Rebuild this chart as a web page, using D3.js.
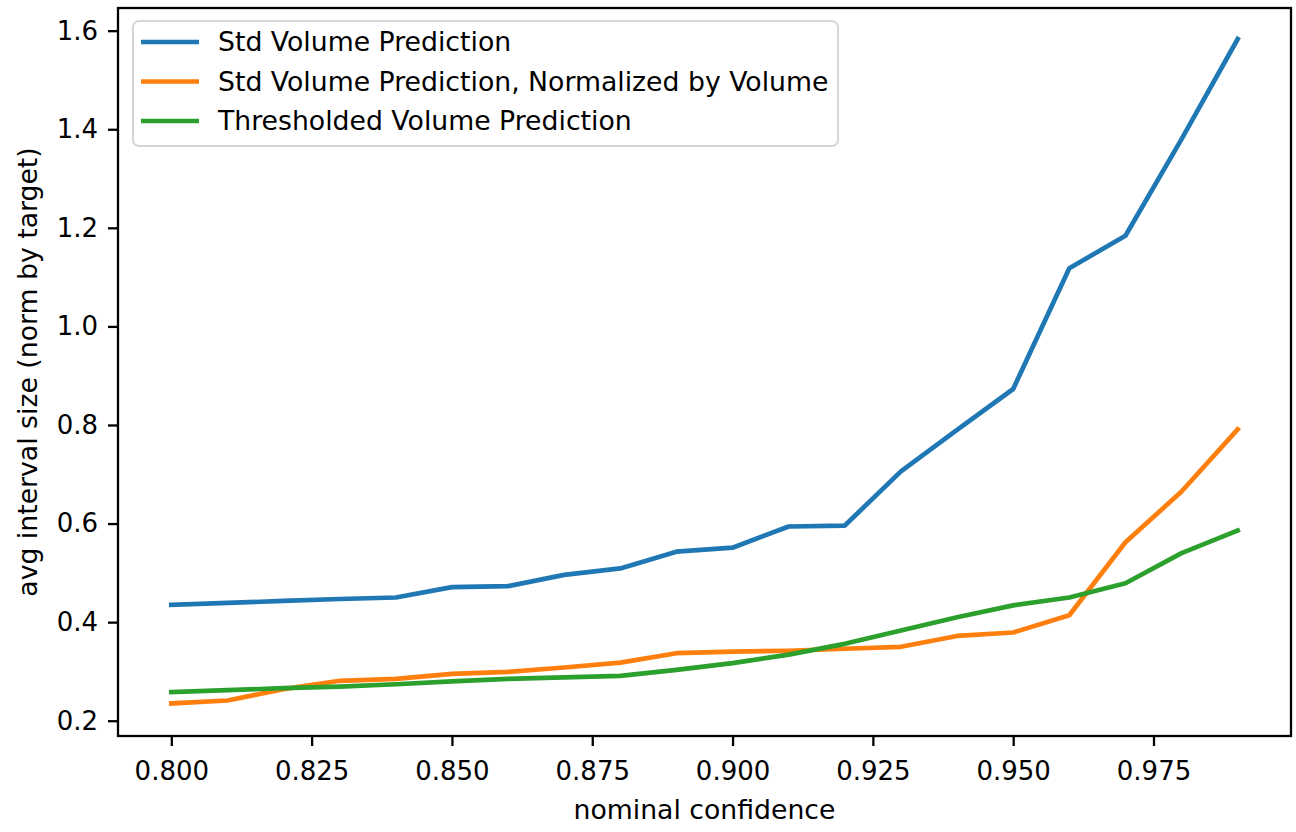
<!DOCTYPE html>
<html>
<head>
<meta charset="utf-8">
<script src="https://cdn.jsdelivr.net/npm/d3@7"></script>
<style>
  body { margin: 0; background: #fff; }
  text { font-family: "DejaVu Sans", sans-serif; fill: #000; }
</style>
</head>
<body>
<div id="chart"></div>
<script>
var width = 1296;
var height = 832;

// data
var confidence = [0.80, 0.81, 0.82, 0.83, 0.84, 0.85, 0.86, 0.87, 0.88, 0.89,
                  0.90, 0.91, 0.92, 0.93, 0.94, 0.95, 0.96, 0.97, 0.98, 0.99];
var stdVolume = [0.435, 0.439, 0.443, 0.447, 0.450, 0.471, 0.473, 0.496, 0.509, 0.543,
                 0.551, 0.594, 0.596, 0.706, 0.790, 0.873, 1.118, 1.184, 1.380, 1.583];
var stdNormalized = [0.235, 0.241, 0.264, 0.281, 0.285, 0.295, 0.299, 0.308, 0.318, 0.337,
                     0.340, 0.342, 0.346, 0.350, 0.372, 0.379, 0.414, 0.562, 0.665, 0.791];
var thresholded = [0.258, 0.262, 0.266, 0.269, 0.274, 0.280, 0.285, 0.288, 0.291, 0.303,
                   0.317, 0.334, 0.356, 0.383, 0.410, 0.434, 0.450, 0.479, 0.540, 0.586];
var seriesNames = ["Std Volume Prediction",
                   "Std Volume Prediction, Normalized by Volume",
                   "Thresholded Volume Prediction"];
var seriesColors = ["#1f77b4", "#ff7f0e", "#2ca02c"];
var xTicks = [0.800, 0.825, 0.850, 0.875, 0.900, 0.925, 0.950, 0.975];
var yTicks = [0.2, 0.4, 0.6, 0.8, 1.0, 1.2, 1.4, 1.6];

// plot box (don't call it "top", window.top is taken)
var pLeft = 118, pRight = 1291, pTop = 8, pBottom = 736;
var tickFont = 26;
var labelFont = 26.7;

var svg = d3.select("#chart")
    .append("svg")
    .attr("width", width)
    .attr("height", height);

var x = d3.scaleLinear().domain([0.7905, 0.9995]).range([pLeft, pRight]);
var y = d3.scaleLinear().domain([0.169, 1.646]).range([pBottom, pTop]);

// axes
var xAxis = svg.append("g")
    .attr("transform", "translate(0," + pBottom + ")")
    .call(d3.axisBottom(x).tickValues(xTicks).tickFormat(d3.format(".3f"))
        .tickSize(10).tickPadding(8).tickSizeOuter(0));
var yAxis = svg.append("g")
    .attr("transform", "translate(" + pLeft + ",0)")
    .call(d3.axisLeft(y).tickValues(yTicks).tickFormat(d3.format(".1f"))
        .tickSize(10).tickPadding(10).tickSizeOuter(0));
svg.selectAll(".domain").remove();
svg.selectAll(".tick line").attr("stroke", "#000").attr("stroke-width", 2.3);
svg.selectAll(".tick text")
    .style("font-family", "DejaVu Sans")
    .style("font-size", tickFont + "px")
    .attr("fill", "#000");
xAxis.selectAll(".tick text").attr("dy", null).attr("y", 44);

// lines
var line = d3.line()
    .x(function(d, i) { return x(confidence[i]); })
    .y(function(d) { return y(d); });
var allSeries = [stdVolume, stdNormalized, thresholded];
for (var s = 0; s < allSeries.length; s++) {
    svg.append("path")
        .datum(allSeries[s])
        .attr("d", line)
        .attr("fill", "none")
        .attr("stroke", seriesColors[s])
        .attr("stroke-width", 4.7)
        .attr("stroke-linejoin", "round")
        .attr("stroke-linecap", "square");
}

// frame
svg.append("rect")
    .attr("x", pLeft)
    .attr("y", pTop)
    .attr("width", pRight - pLeft)
    .attr("height", pBottom - pTop)
    .attr("fill", "none")
    .attr("stroke", "#000")
    .attr("stroke-width", 2.3);

// axis labels
svg.append("text")
    .text("nominal confidence")
    .attr("x", (pLeft + pRight) / 2)
    .attr("y", 819)
    .attr("text-anchor", "middle")
    .style("font-size", labelFont + "px");
svg.append("text")
    .text("avg interval size (norm by target)")
    .attr("transform", "translate(37," + (pTop + pBottom) / 2 + ") rotate(-90)")
    .attr("text-anchor", "middle")
    .style("font-size", labelFont + "px");

// legend
var legend = svg.append("g");
legend.append("rect")
    .attr("x", 133)
    .attr("y", 21)
    .attr("width", 705)
    .attr("height", 125)
    .attr("rx", 6)
    .attr("fill", "#fff")
    .attr("fill-opacity", 0.8)
    .attr("stroke", "#d6d6d6")
    .attr("stroke-width", 2);
for (var k = 0; k < seriesNames.length; k++) {
    var ly = 42 + k * 39.5;
    legend.append("line")
        .attr("x1", 141)
        .attr("x2", 199)
        .attr("y1", ly)
        .attr("y2", ly)
        .attr("stroke", seriesColors[k])
        .attr("stroke-width", 4.7);
    legend.append("text")
        .text(seriesNames[k])
        .attr("x", 218)
        .attr("y", ly + 9)
        .style("font-size", labelFont + "px");
}
</script>
</body>
</html>
